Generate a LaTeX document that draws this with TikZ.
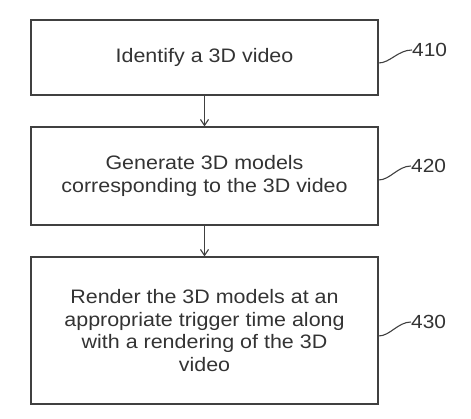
\documentclass[tikz,border=0pt]{standalone}
\usepackage{fontspec}
\setmainfont[FakeStretch=1.1]{Liberation Sans}
\usetikzlibrary{arrows.meta}
\begin{document}
\begin{tikzpicture}[x=1pt,y=-1pt,
  stepbox/.style={draw=black!75, line width=1.2pt, minimum width=347pt, align=center, font=\fontsize{19.5}{22.5}\selectfont, text=black!80, inner sep=0pt},
  flow/.style={draw=black!75, line width=1.1pt, -{Straight Barb[length=6pt,width=8pt]}},
  leader/.style={draw=black!75, line width=1.1pt},
  reflabel/.style={font=\fontsize{19}{22}\selectfont, text=black!80, anchor=west, inner sep=0pt}]
\useasboundingbox (0,0) rectangle (471,419);
\node[stepbox, minimum height=75pt] (b1) at (204.5,57.5) {Identify a 3D video};
\node[stepbox, minimum height=98pt] (b2) at (204.5,176) {Generate 3D models\\corresponding to the 3D video};
\node[stepbox, minimum height=147pt] (b3) at (204.5,330.5) {Render the 3D models at an\\appropriate trigger time along\\with a rendering of the 3D\\video};
\draw[flow] (b1.south) -- (b2.north);
\draw[flow] (b2.south) -- (b3.north);
\node[reflabel] (l1) at (412,50) {410};
\node[reflabel] (l2) at (411,166) {420};
\node[reflabel] (l3) at (411,322) {430};
\draw[leader] (b1.east |- 0,63) .. controls (390,63) and (398,50) .. (l1.west);
\draw[leader] (b2.east |- 0,180) .. controls (390,180) and (398,166) .. (l2.west);
\draw[leader] (b3.east |- 0,336) .. controls (390,336) and (398,322) .. (l3.west);
\end{tikzpicture}
\end{document}
